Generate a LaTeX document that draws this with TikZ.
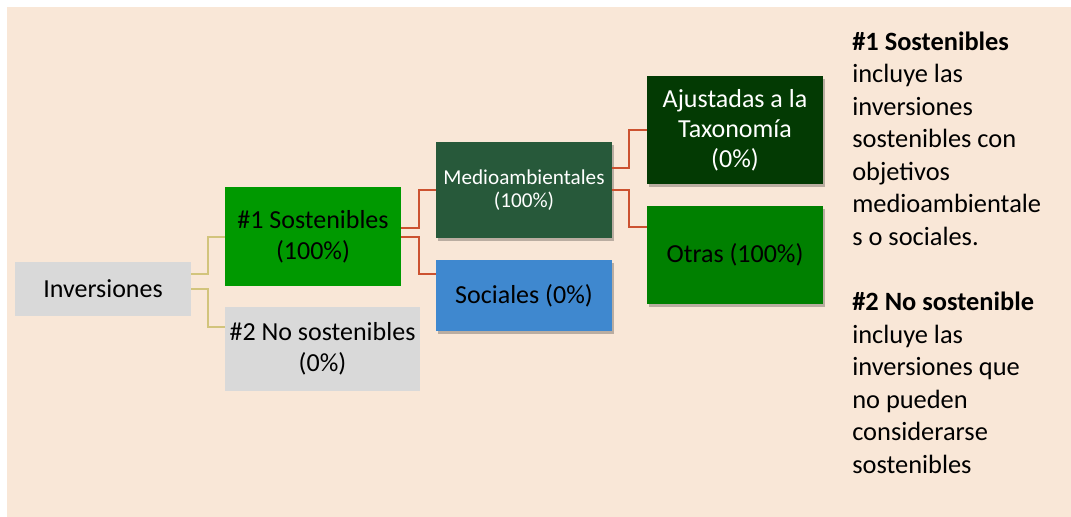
\documentclass[tikz,border=0pt]{standalone}
\usepackage{fontspec}
\setmainfont{Carlito}
\usetikzlibrary{shadows,calc}
\definecolor{bgbeige}{HTML}{F9E7D7}
\definecolor{boxgray}{HTML}{D9D9D9}
\definecolor{sgreen}{HTML}{009900}
\definecolor{medgreen}{HTML}{27593A}
\definecolor{socblue}{HTML}{3F88CF}
\definecolor{ajugreen}{HTML}{033A03}
\definecolor{otrgreen}{HTML}{008000}
\definecolor{redline}{HTML}{CC5230}
\definecolor{oliveline}{HTML}{D2C47C}
\tikzset{
  treebox/.style={rectangle, inner sep=0pt, align=center, minimum width=132pt,
    font=\fontsize{19.5}{23.25}\selectfont},
  shad/.style={drop shadow={shadow xshift=1.5pt, shadow yshift=-2.5pt, opacity=0.25, fill=black}},
  oline/.style={draw=oliveline, line width=1.5pt},
  rline/.style={draw=redline, line width=1.5pt},
}
\begin{document}
\begin{tikzpicture}[x=0.75pt,y=-0.75pt]
\useasboundingbox (0,0) rectangle (1071,517);
\fill[white] (0,0) rectangle (1071,517);
\fill[bgbeige] (7,7) rectangle (1071,517);

\node[treebox, fill=boxgray, minimum height=40.5pt] (inv) at (103,289) {Inversiones};
\node[treebox, fill=sgreen, minimum height=74.25pt] (s1) at (313,236.5) {\#1 Sostenibles\\(100\%)};
\node[treebox, fill=boxgray, minimum width=146.25pt, minimum height=63pt] (s2) at (322.5,349) {\#2 No sostenibles\\(0\%)};
\node[treebox, shad, fill=medgreen, text=white, minimum height=72pt,
  font=\fontsize{15.9}{17.25}\selectfont] (med) at (524,190) {Medioambientales\\(100\%)};
\node[treebox, shad, fill=socblue, minimum height=53.25pt] (soc) at (524,295.5) {Sociales (0\%)};
\node[treebox, shad, fill=ajugreen, text=white, minimum height=81pt,
  font=\fontsize{19.5}{22.5}\selectfont] (aju) at (735,130) {Ajustadas a la\\Taxonomía\\(0\%)};
\node[treebox, shad, fill=otrgreen, minimum height=73.5pt] (otr) at (735,255) {Otras (100\%)};

% olive connectors
\draw[oline] ($(inv.east)+(0,-15)$) -- ++(17,0) |- (s1.west);
\draw[oline] (inv.east) -- ++(17,0) |- ($(s2.west)+(0,-22)$);
% red connectors
\draw[rline] ($(s1.east)+(0,-8.5)$) -- ++(18,0) |- (med.west);
\draw[rline] (s1.east) -- ++(18,0) |- ($(soc.west)+(0,-21.5)$);
\draw[rline] ($(med.east)+(0,-22)$) -- ++(17,0) |- (aju.west);
\draw[rline] (med.east) -- ++(17,0) |- ($(otr.west)+(0,-28)$);

\node[anchor=north west, inner sep=0pt, align=left,
  font=\fontsize{19.8}{24.4}\selectfont] (note) at (852,31.5)
{\textbf{\#1 Sostenibles}\\
incluye las\\
inversiones\\
sostenibles con\\
objetivos\\
medioambientale\\
s o sociales.\\
\\
\textbf{\#2 No sostenible}\\
incluye las\\
inversiones que\\
no pueden\\
considerarse\\
sostenibles};
\end{tikzpicture}
\end{document}
